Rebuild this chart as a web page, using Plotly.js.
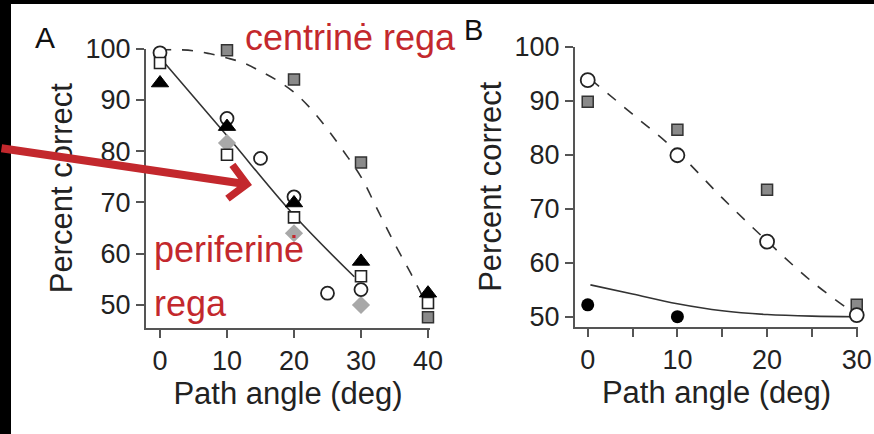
<!DOCTYPE html>
<html><head><meta charset="utf-8">
<script src="https://cdn.plot.ly/plotly-3.0.1.min.js"></script>
<style>
html,body{margin:0;padding:0;background:#000;width:874px;height:434px;overflow:hidden}
#bg{position:absolute;left:11px;top:4px;width:863px;height:430px;background:#fff}
#chart{position:absolute;left:0;top:0;width:874px;height:434px}
</style></head><body><div id="bg"></div><div id="chart"></div>
<script>
// ---- Panel A data ----
const angleA = [0, 10, 20, 30, 40];
const openSquareA = [97.2, 79.3, 67.1, 55.6, 50.4];
const triangleA = [93.3, 84.8, 69.9, 58.5, 52.3];
const diamondAngleA = [10, 20, 30];
const diamondA = [81.6, 64.0, 50.0];
const graySquareAngleA = [10, 20, 30, 40];
const graySquareA = [99.7, 94.0, 77.8, 47.6];
const openCircleAngleA = [0, 5, 10, 15, 20, 25, 30];
const openCircleA = [99.2, 100.7, 86.4, 78.6, 71.1, 52.3, 53.0];
const solidFitAngleA = [0.5, 10, 20, 29];
const solidFitA = [97.5, 83, 67.5, 55.5];
const dashFitAngleA = [0, 2.5, 5, 7.5, 10, 12.5, 15, 17.5, 20, 22.5, 25, 27.5, 30, 32.5, 35, 37.5, 40];
const dashFitA = [99.8, 99.8, 99.6, 99.0, 98.2, 97.2, 95.6, 93.8, 91.5, 88.3, 84.3, 79.8, 75.0, 68.5, 62.0, 56.0, 49.5];
const ticksA = [0, 10, 20, 30, 40];

// ---- Panel B data ----
const angleB = [0, 10, 20, 30];
const openCircleB = [93.8, 79.9, 63.9, 50.3];
const graySquareB = [89.8, 84.6, 73.5, 52.2];
const filledCircleAngleB = [0, 10];
const filledCircleB = [52.2, 50.0];
const dashFitAngleB = [0.3, 5, 10, 15, 20, 25, 30];
const dashFitB = [94, 87.5, 80.5, 72, 64, 56.5, 50.3];
const solidFitAngleB = [0.3, 5, 10, 15, 20, 25, 30];
const solidFitB = [55.9, 54.2, 52.4, 51.1, 50.4, 50.1, 50.0];

const yTicks = [50, 60, 70, 80, 90, 100];

const W = 874, H = 434;
const FONT = 'Liberation Sans, Arial, Helvetica, sans-serif';
const RED = '#c3282d';
const AX = '#555';
const px = v => v / W, py = v => 1 - v / H;

const lineCol = '#333';
const traces = [
  {x: dashFitAngleA, y: dashFitA, xaxis: 'x', yaxis: 'y', mode: 'lines', line: {color: lineCol, width: 1.6, dash: '11px,11px', shape: 'spline'}},
  {x: solidFitAngleA, y: solidFitA, xaxis: 'x', yaxis: 'y', mode: 'lines', line: {color: lineCol, width: 1.6, shape: 'spline'}},
  {x: graySquareAngleA, y: graySquareA, xaxis: 'x', yaxis: 'y', mode: 'markers', marker: {symbol: 'square', size: 11, color: '#8a8a8a', line: {color: '#333', width: 1.5}}},
  {x: diamondAngleA, y: diamondA, xaxis: 'x', yaxis: 'y', mode: 'markers', marker: {symbol: 'diamond', size: 14, color: '#a8a8a8', line: {color: '#a8a8a8', width: 0}}},
  {x: openCircleAngleA, y: openCircleA, xaxis: 'x', yaxis: 'y', mode: 'markers', marker: {symbol: 'circle', size: 13, color: '#fff', line: {color: '#222', width: 1.8}}},
  {x: angleA, y: openSquareA, xaxis: 'x', yaxis: 'y', mode: 'markers', marker: {symbol: 'square', size: 11, color: '#fff', line: {color: '#222', width: 1.6}}},
  {x: angleA, y: triangleA, xaxis: 'x', yaxis: 'y', mode: 'markers', marker: {symbol: 'triangle-up', size: 15, color: '#000', line: {color: '#000', width: 1}}},

  {x: dashFitAngleB, y: dashFitB, xaxis: 'x2', yaxis: 'y2', mode: 'lines', line: {color: lineCol, width: 1.6, dash: '11px,11px', shape: 'spline'}},
  {x: solidFitAngleB, y: solidFitB, xaxis: 'x2', yaxis: 'y2', mode: 'lines', line: {color: lineCol, width: 1.6, shape: 'spline'}},
  {x: angleB, y: graySquareB, xaxis: 'x2', yaxis: 'y2', mode: 'markers', marker: {symbol: 'square', size: 11, color: '#8a8a8a', line: {color: '#333', width: 1.5}}},
  {x: angleB, y: openCircleB, xaxis: 'x2', yaxis: 'y2', mode: 'markers', marker: {symbol: 'circle', size: 14, color: '#fff', line: {color: '#222', width: 1.8}}},
  {x: filledCircleAngleB, y: filledCircleB, xaxis: 'x2', yaxis: 'y2', mode: 'markers', marker: {symbol: 'circle', size: 13, color: '#000', line: {color: '#000', width: 0}}}
].map(t => Object.assign({showlegend: false, cliponaxis: false, hoverinfo: 'skip'}, t));

const axCommon = {
  showline: true, linecolor: AX, linewidth: 2, mirror: false,
  ticks: 'outside', ticklen: 8, tickwidth: 2, tickcolor: AX,
  showgrid: false, zeroline: false, fixedrange: true,
  tickfont: {family: FONT, size: 27, color: '#222'}
};
const titleFont = {family: FONT, size: 31, color: '#222'};

const layout = {
  width: W, height: H,
  margin: {l: 0, r: 0, t: 0, b: 0},
  paper_bgcolor: 'rgba(0,0,0,0)', plot_bgcolor: 'rgba(0,0,0,0)',
  font: {family: FONT, color: '#222'},
  xaxis: Object.assign({}, axCommon, {
    domain: [146 / W, 430 / W], range: [-2.09, 40.3], anchor: 'y',
    tickvals: ticksA, title: {text: 'Path angle (deg)', font: titleFont, standoff: 6}
  }),
  yaxis: Object.assign({}, axCommon, {
    domain: [py(327.7), py(48.7)], range: [45.57, 100], anchor: 'x',
    tickvals: yTicks, title: {text: 'Percent correct', font: titleFont, standoff: 4}
  }),
  xaxis2: Object.assign({}, axCommon, {
    domain: [575 / W, 858 / W], range: [-1.42, 30.14], anchor: 'y2',
    tickmode: 'linear', tick0: 0, dtick: 10,
    minor: {dtick: 5, tick0: 0, ticks: 'outside', ticklen: 8, tickwidth: 2, tickcolor: AX},
    title: {text: 'Path angle (deg)', font: titleFont, standoff: 6}
  }),
  yaxis2: Object.assign({}, axCommon, {
    domain: [py(326.7), py(46.7)], range: [48.15, 100], anchor: 'x2',
    tickvals: yTicks, title: {text: 'Percent correct', font: titleFont, standoff: 4}
  }),
  annotations: [
    {xref: 'paper', yref: 'paper', x: px(45), y: py(37), xanchor: 'center', yanchor: 'middle', text: 'A', showarrow: false, font: {family: FONT, size: 30, color: '#111'}},
    {xref: 'paper', yref: 'paper', x: px(473), y: py(30), xanchor: 'center', yanchor: 'middle', text: 'B', showarrow: false, font: {family: FONT, size: 29, color: '#111'}},
    {xref: 'paper', yref: 'paper', x: px(243), y: py(37), xanchor: 'left', yanchor: 'middle', text: 'centrinė rega', showarrow: false, font: {family: FONT, size: 36, color: RED}},
    {xref: 'paper', yref: 'paper', x: px(152), y: py(250), xanchor: 'left', yanchor: 'middle', text: 'periferinė', showarrow: false, font: {family: FONT, size: 36, color: RED}},
    {xref: 'paper', yref: 'paper', x: px(152), y: py(303), xanchor: 'left', yanchor: 'middle', text: 'rega', showarrow: false, font: {family: FONT, size: 36, color: RED}},
    {xref: 'paper', yref: 'paper', x: px(252), y: py(185), axref: 'pixel', ayref: 'pixel', ax: -252, ay: -37,
     text: '', showarrow: true, arrowhead: 4, arrowsize: 0.82, arrowwidth: 8, arrowcolor: RED, standoff: 0}
  ]
};

Plotly.newPlot('chart', traces, layout, {staticPlot: true, displayModeBar: false});
</script></body></html>
